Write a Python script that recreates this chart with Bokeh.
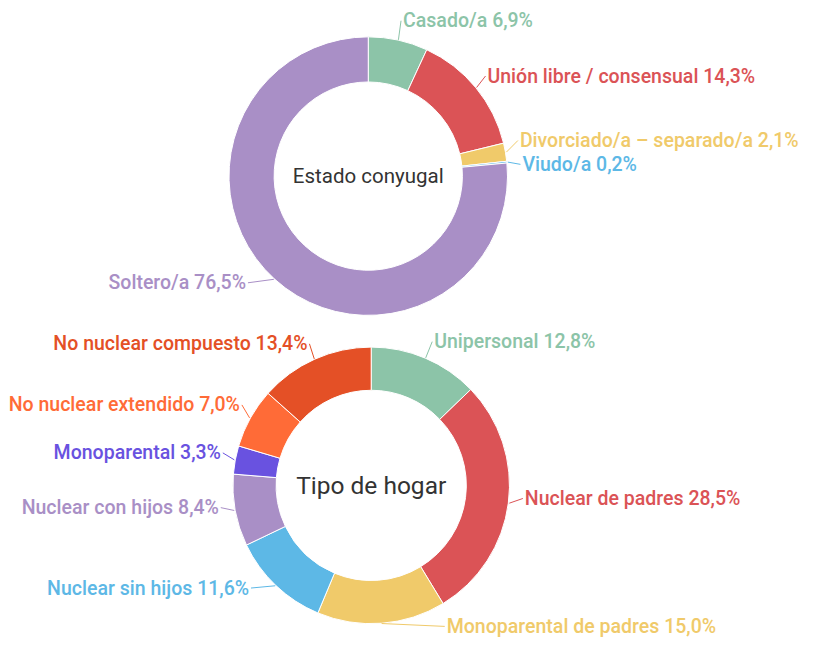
import math
from bokeh.plotting import figure
from bokeh.models import Range1d, ColumnDataSource
from bokeh.core.properties import value
from bokeh.embed import file_html
from bokeh.resources import INLINE

# ---- data ----
estado_labels = ["Casado/a", "Unión libre / consensual", "Divorciado/a – separado/a", "Viudo/a", "Soltero/a"]
estado_values = [6.9, 14.3, 2.1, 0.2, 76.5]
estado_colors = ["#8CC4A8", "#DB5356", "#F0CA6A", "#5DB8E6", "#A98FC6"]

hogar_labels = ["Unipersonal", "Nuclear de padres", "Monoparental de padres", "Nuclear sin hijos",
                "Nuclear con hijos", "Monoparental", "No nuclear extendido", "No nuclear compuesto"]
hogar_values = [12.8, 28.5, 15.0, 11.6, 8.4, 3.3, 7.0, 13.4]
hogar_colors = ["#8CC4A8", "#DB5356", "#F0CA6A", "#5DB8E6", "#A98FC6", "#6952E0", "#FF6B37", "#E45026"]

# ---- layout (label nudges in pixels, x right / y down) ----
estado_nudge = [(-1, -3), (-4, -1), (-5, -9), (-4, 4), (-15, -9)]
hogar_nudge = [(0, -1), (-3, -7), (63, -14), (-13, -10), (3, -6), (5, -4), (7, -5), (2, 0)]

W, H = 812, 640          # figure size in screen pixels
DW, DH = 828, 656        # drawing frame (data units)
LABEL_FONT = "Roboto Medium"

p = figure(width=W, height=H, x_range=Range1d(0, DW), y_range=Range1d(0, DH),
           output_backend="svg", toolbar_location=None, min_border=0)
p.axis.visible = False
p.grid.visible = False
p.outline_line_color = None
p.background_fill_color = "white"


def fmt(v):
    return f"{v:.1f}".replace(".", ",") + "%"


def donut(cx, cy, r_in, r_out, labels, values, colors, nudges, title, title_size):
    total = sum(values)
    starts, ends, mids = [], [], []
    cum = 0.0
    for v in values:
        a0 = cum / total
        cum += v
        a1 = cum / total
        starts.append(math.pi / 2 - 2 * math.pi * a0)
        ends.append(math.pi / 2 - 2 * math.pi * a1)
        mids.append(2 * math.pi * (a0 + a1) / 2)
    src = ColumnDataSource(dict(start=starts, end=ends, color=colors))
    p.annular_wedge(x=cx, y=cy, inner_radius=r_in, outer_radius=r_out,
                    start_angle="start", end_angle="end", direction="clock",
                    fill_color="color", line_color="white", line_width=1, source=src)
    ly, tx, align, texts, lcols = [], [], [], [], []
    for lab, v, col, th, (dx, dy) in zip(labels, values, colors, mids, nudges):
        s, c = math.sin(th), math.cos(th)
        ex, ey = cx + (r_out + 1) * s, cy + (r_out + 1) * c
        ax = cx + (r_out + 18) * s + dx
        ay = cy + (r_out + 18) * c - dy
        p.line([ex, ax], [ey, ay], line_color=col, line_width=1)
        right = s >= 0
        tx.append(ax + (2 if right else -2))
        ly.append(ay)
        align.append("left" if right else "right")
        texts.append(f"{lab} {fmt(v)}")
        lcols.append(col)
    tsrc = ColumnDataSource(dict(x=tx, y=ly, text=texts, align=align, color=lcols))
    p.text(x="x", y="y", text="text", text_align="align", text_baseline="middle",
           text_color="color", text_font=value(LABEL_FONT), text_font_size="19.5px", source=tsrc)
    p.text(x=[cx], y=[cy], text=[title], text_align="center", text_baseline="middle",
           text_color="#333333", text_font=value("Roboto"), text_font_size=title_size)


donut(375, 476, 96, 142, estado_labels, estado_values, estado_colors, estado_nudge,
      "Estado conyugal", "20.5px")
donut(378, 159, 97, 141, hogar_labels, hogar_values, hogar_colors, hogar_nudge,
      "Tipo de hogar", "24.5px")

open("out.html", "w").write(file_html(p, INLINE))
